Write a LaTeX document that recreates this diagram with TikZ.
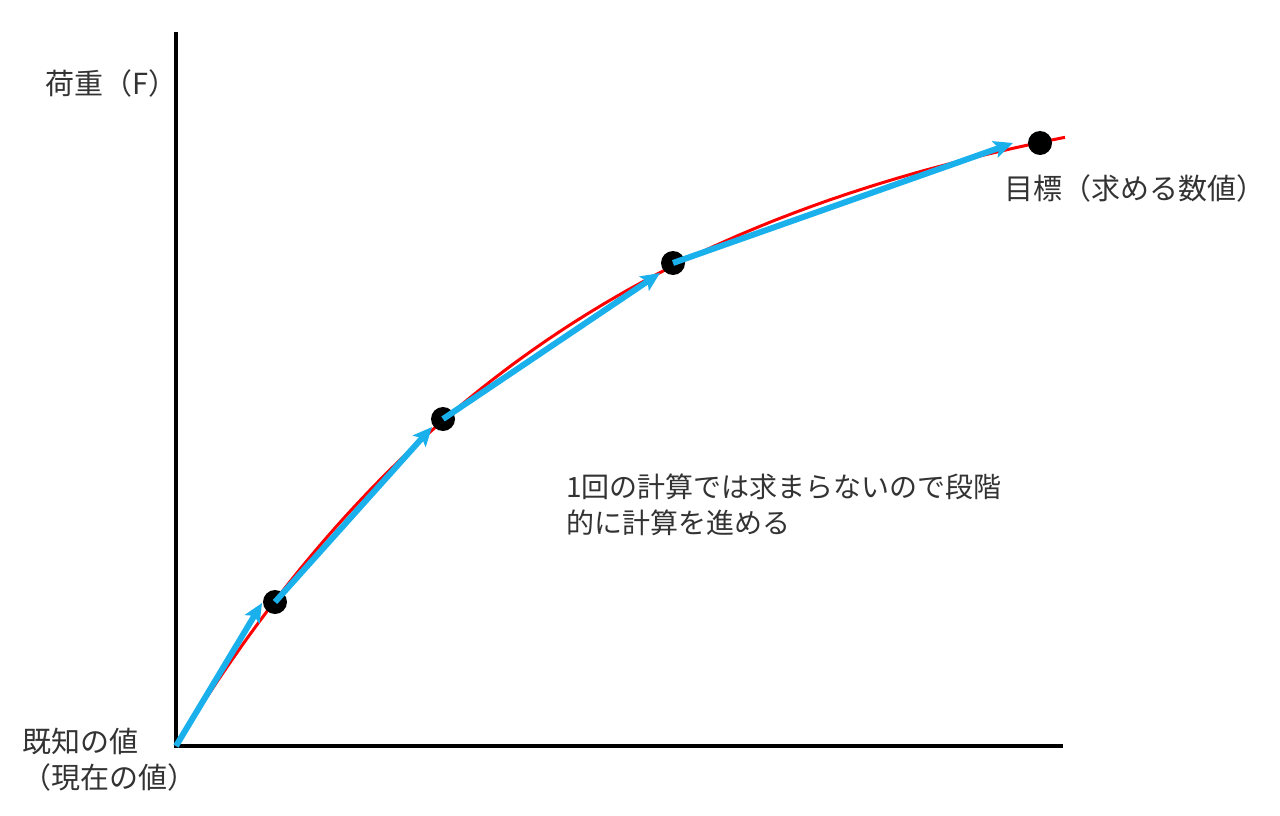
\documentclass[tikz,border=0pt]{standalone}
\usepackage{fontspec}
\setmainfont{Noto Sans CJK JP}
\usetikzlibrary{arrows.meta,calc}
\definecolor{arrowblue}{HTML}{1AB0EC}
\definecolor{curvered}{HTML}{FF0000}
\definecolor{txt}{HTML}{333333}
\tikzset{
  axisline/.style={line width=4pt, black},
  curveline/.style={line width=3pt, curvered},
  stepline/.style={line width=6pt, arrowblue, -{Stealth[length=19pt,width=17pt,inset=4pt]}},
  dot/.style={circle, fill=black, inner sep=0pt, minimum size=24pt},
  lbl/.style={text=txt, inner sep=0pt, font=\fontsize{29}{36}\selectfont},
}
\begin{document}
\begin{tikzpicture}[x=1pt,y=-1pt]
\useasboundingbox (0,0) rectangle (1280,816);
% axes
\coordinate (o) at (176,746);
\coordinate (ytop) at (176,32);
\coordinate (xend) at (1063,746);
\draw[axisline] (ytop) -- (176,748);
\draw[axisline] (174,746) -- (xend);
% red curve
\draw[curveline] plot[domain=0:889, samples=150] ({176+\x}, {746-692*(1-exp(-\x/420))});
% points
\node[dot] (p1) at (275,602) {};
\node[dot] (p2) at (443,419) {};
\node[dot] (p3) at (673,263) {};
\node[dot] (p4) at (1040,143) {};
% blue step arrows
\draw[stepline] (o) -- ($(p1.center)+(-13,1)$);
\draw[stepline] (p1.center) -- ($(p2.center)+(-11,8)$);
\draw[stepline] (p2.center) -- ($(p3.center)+(-13,10)$);
\draw[stepline] (p3.center) -- ($(p4.center)+(-27,0)$);
% labels
\node[lbl, anchor=east] (ylab) at (178,83) {荷重（F）};
\node[lbl, anchor=west, align=left] (start) at (22,760) {既知の値\\（現在の値）};
\node[lbl, anchor=west] (goal) at (1004,188) {目標（求める数値）};
\node[lbl, anchor=west, align=left, font=\fontsize{28}{36}\selectfont] (note) at (566,505) {1回の計算では求まらないので段階\\的に計算を進める};
\end{tikzpicture}
\end{document}
